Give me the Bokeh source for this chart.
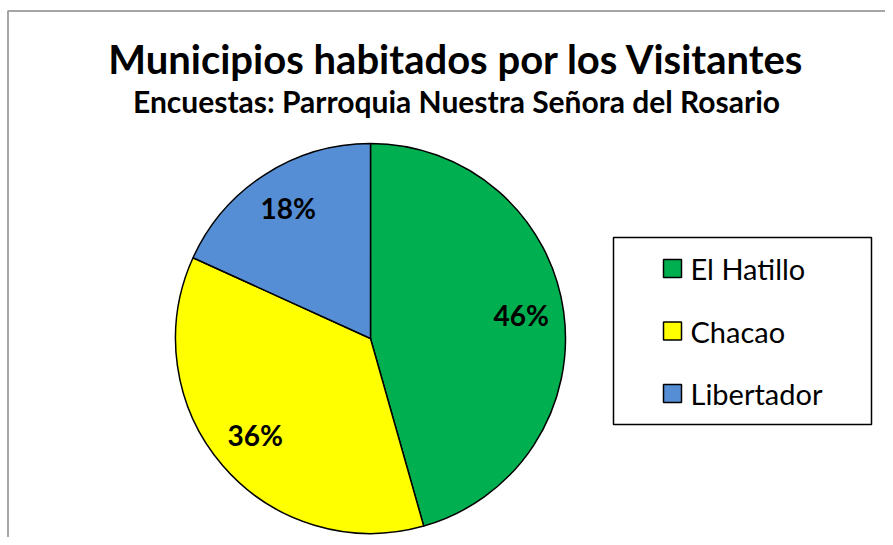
import math
from bokeh.plotting import figure
from bokeh.models import Range1d, ColumnDataSource
from bokeh.core.properties import value
from bokeh.embed import file_html
from bokeh.resources import INLINE

# ---- data ----
categories = ["El Hatillo", "Chacao", "Libertador"]
shares = [45.6, 36.2, 18.2]
colors = ["#00B050", "#FFFF00", "#558ED5"]
title_text = "Municipios habitados por los Visitantes"
subtitle_text = "Encuestas: Parroquia Nuestra Señora del Rosario"

FONT = "Lato"
W, H = 885, 537
p = figure(width=W, height=H, x_range=Range1d(0, W), y_range=Range1d(0, H),
           output_backend="svg", toolbar_location=None, min_border=0,
           x_axis_type=None, y_axis_type=None)
p.grid.visible = False
p.outline_line_color = None
p.background_fill_color = "white"
p.border_fill_color = "white"

# chart border (top and left visible)
p.line(x=[7.5, 7.5, W], y=[0, 526.5, 526.5], line_color="#A6A6A6", line_width=2)

# titles
p.text(x=[456], y=[479], text=[title_text], text_font=value(FONT),
       text_font_style="bold", text_font_size="40px", text_align="center",
       text_baseline="alphabetic", text_color="black")
p.text(x=[456], y=[437], text=[subtitle_text], text_font=value(FONT),
       text_font_style="bold", text_font_size="30px", text_align="center",
       text_baseline="alphabetic", text_color="black")

# pie
cx, cy, R = 370, 199, 195
total = sum(shares)
starts, ends, lx, ly, labels = [], [], [], [], []
cum = 0.0
for s in shares:
    a0 = math.pi / 2 - 2 * math.pi * cum / total
    cum += s
    a1 = math.pi / 2 - 2 * math.pi * cum / total
    starts.append(a0)
    ends.append(a1)
    mid = (a0 + a1) / 2
    lx.append(cx + 0.78 * R * math.cos(mid))
    ly.append(cy + 0.78 * R * math.sin(mid) + 3)
    labels.append(f"{round(100 * s / total)}%")

src = ColumnDataSource(dict(cat=categories, start=starts, end=ends, color=colors,
                            lx=lx, ly=ly, label=labels))
p.wedge(x=cx, y=cy, radius=R, start_angle="start", end_angle="end",
        direction="clock", fill_color="color", line_color="black",
        line_width=1.5, source=src)
p.text(x="lx", y="ly", text="label", source=src, text_font=value(FONT),
       text_font_style="bold", text_font_size="28px", text_align="center",
       text_baseline="middle", text_color="black")

# legend box
p.quad(left=[613], right=[871], top=[300], bottom=[113], fill_color="white",
       line_color="black", line_width=1.5)
rows_y = [269 - 62.5 * i for i in range(len(categories))]
p.rect(x=[672] * len(categories), y=rows_y, width=18, height=18,
       fill_color=colors, line_color="black", line_width=1.5)
p.text(x=[690] * len(categories), y=rows_y, text=categories,
       text_font=value(FONT), text_font_size="29px", text_align="left",
       text_baseline="middle", text_color="black")

open("out.html", "w").write(file_html(p, INLINE))
